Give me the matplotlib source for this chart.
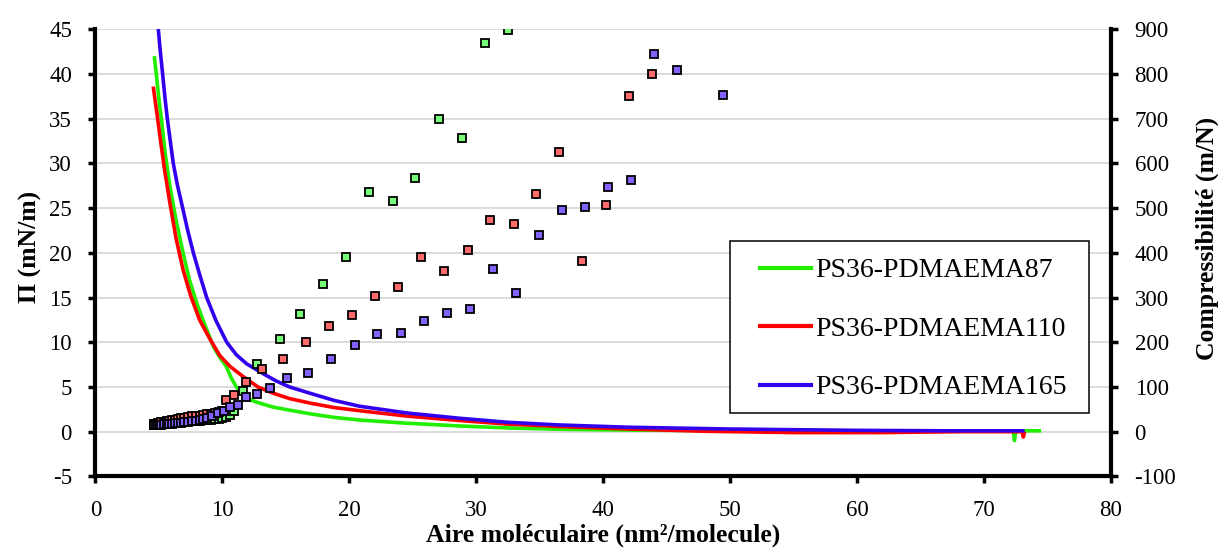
import matplotlib
matplotlib.use("Agg")
import matplotlib.pyplot as plt
from matplotlib.patches import Rectangle
from matplotlib.lines import Line2D

plt.rcParams['font.family'] = ['Liberation Serif', 'DejaVu Serif']

# ---------------- data ----------------
labels = ["PS36-PDMAEMA87", "PS36-PDMAEMA110", "PS36-PDMAEMA165"]

# Surface pressure isotherms (left axis)
pi_green_x = [4.63, 4.75, 4.9, 5.05, 5.2, 5.5, 5.87, 6.3, 6.9, 7.4, 7.97, 8.6, 9.3, 9.8, 10.3,
              10.7, 11.1, 11.6, 12.2, 12.96, 14.0, 15.33, 16.9, 18.8, 20.84, 24.5, 28.7, 32.5,
              36.6, 42.0, 50.0, 60.0, 70.0, 72.3, 72.4, 72.5, 74.5]
pi_green_y = [42.0, 40.5, 38.5, 36.5, 34.9, 31.0, 27.4, 24.0, 20.0, 17.0, 14.4, 12.0, 9.5, 8.3, 7.3,
              6.0, 5.0, 4.2, 3.55, 3.18, 2.75, 2.4, 2.0, 1.6, 1.3, 0.95, 0.64, 0.42,
              0.27, 0.18, 0.12, 0.1, 0.1, 0.1, -1.0, 0.1, 0.1]

pi_red_x = [4.55, 4.7, 4.85, 5.08, 5.45, 5.87, 6.35, 6.9, 7.5, 8.2, 9.0, 9.8, 10.6, 11.6, 12.8,
            14.0, 15.3, 16.9, 18.8, 20.8, 24.5, 28.7, 32.5, 36.6, 42.0, 48.0, 55.0, 62.0, 68.0,
            73.0, 73.1, 73.2]
pi_red_y = [38.6, 37.0, 35.5, 33.0, 29.2, 25.5, 21.6, 18.1, 15.2, 12.5, 10.4, 8.5, 7.3, 6.2, 5.0,
            4.3, 3.7, 3.2, 2.7, 2.35, 1.75, 1.25, 0.85, 0.58, 0.3, 0.05, -0.1, -0.1, 0.0,
            0.0, -0.6, 0.0]

pi_blue_x = [4.85, 4.95, 5.1, 5.29, 5.47, 5.66, 5.9, 6.13, 6.45, 6.87, 7.25, 7.71, 8.2, 8.76,
             9.5, 10.34, 11.1, 11.9, 13.2, 14.2, 15.3, 16.9, 18.8, 20.8, 24.5, 28.7, 32.5,
             36.6, 42.0, 50.0, 60.0, 67.0, 73.2]
pi_blue_y = [46.5, 45.0, 42.6, 40.0, 37.4, 35.0, 32.4, 30.0, 27.6, 25.0, 22.6, 20.0, 17.6, 15.0,
             12.4, 10.0, 8.6, 7.6, 6.5, 5.7, 5.0, 4.3, 3.5, 2.85, 2.1, 1.5, 1.05,
             0.75, 0.5, 0.3, 0.15, 0.1, 0.1]

# Compressibility (right axis)
comp_green_x = [4.6, 4.75, 4.9, 5.05, 5.2, 5.4, 5.6, 5.8, 6.0, 6.25, 6.5, 6.75, 7.0, 7.3, 7.6,
                7.9, 8.2, 8.5, 8.8, 9.1, 9.4, 9.7, 10.0, 10.25, 10.6, 10.94, 11.65, 12.7, 14.5,
                16.12, 17.93, 19.76, 21.58, 23.42, 25.2, 27.05, 28.86, 30.67, 32.48]
comp_green_y = [15, 16, 16, 17, 17, 18, 18, 19, 19, 20, 21, 21, 22, 23, 23,
                24, 25, 26, 26, 27, 28, 29, 30, 33, 38, 47, 90, 152, 208,
                264, 331, 391, 537, 516, 568, 700, 658, 870, 899]

comp_red_x = [4.6, 4.75, 4.9, 5.05, 5.2, 5.4, 5.6, 5.8, 6.0, 6.25, 6.5, 6.75, 7.0, 7.3, 7.6,
              7.9, 8.2, 8.5, 8.8, 9.1, 9.4, 9.7, 10.0, 10.3, 10.95, 11.83, 13.12, 14.75, 16.59,
              18.4, 20.24, 22.05, 23.86, 25.67, 27.49, 29.33, 31.1, 32.96, 34.74, 36.55, 38.36,
              40.2, 42.02, 43.85]
comp_red_y = [17, 18, 19, 20, 21, 22, 23, 24, 26, 27, 28, 30, 31, 32, 34,
              35, 36, 37, 39, 40, 42, 44, 47, 70, 81, 112, 140, 163, 201,
              237, 260, 303, 324, 391, 360, 407, 474, 465, 532, 626, 382,
              506, 751, 801]

comp_blue_x = [4.6, 4.75, 4.9, 5.05, 5.2, 5.4, 5.6, 5.8, 6.0, 6.25, 6.5, 6.75, 7.0, 7.3, 7.6,
               7.9, 8.2, 8.5, 8.8, 9.2, 9.67, 10.1, 10.62, 11.22, 11.88, 12.75, 13.74, 15.07,
               16.77, 18.58, 20.43, 22.21, 24.05, 25.86, 27.68, 29.49, 31.3, 33.11, 34.92, 36.74,
               38.55, 40.39, 42.2, 44.01, 45.82, 49.47]
comp_blue_y = [14, 15, 15, 16, 16, 17, 17, 18, 18, 19, 19, 20, 21, 22, 23,
               24, 26, 28, 31, 35, 42, 47, 55, 60, 78, 84, 98, 120,
               131, 163, 193, 219, 221, 248, 265, 274, 365, 310, 439, 496,
               502, 548, 564, 844, 810, 752]

x_ticks = [0, 10, 20, 30, 40, 50, 60, 70, 80]
left_ticks = [-5, 0, 5, 10, 15, 20, 25, 30, 35, 40, 45]
right_ticks = [-100, 0, 100, 200, 300, 400, 500, 600, 700, 800, 900]

# ---------------- style ----------------
line_colors = ['#22EE00', '#FF0000', '#3300EE']
marker_faces = ['#77FF77', '#FF6B6B', '#8462FF']

fig = plt.figure(figsize=(12.18, 5.5), dpi=100)
ax = fig.add_axes([0.0784, 0.1338, 0.8337, 0.8129])
ax2 = ax.twinx()

pi_x = [pi_green_x, pi_red_x, pi_blue_x]
pi_y = [pi_green_y, pi_red_y, pi_blue_y]
for xs, ys, c in zip(pi_x, pi_y, line_colors):
    ax.plot(xs, ys, color=c, lw=2.6, solid_capstyle='butt', solid_joinstyle='round', zorder=3)

comp_x = [comp_green_x, comp_red_x, comp_blue_x]
comp_y = [comp_green_y, comp_red_y, comp_blue_y]
for xs, ys, fc in zip(comp_x, comp_y, marker_faces):
    ax2.plot(xs, ys, ls='none', marker='s', ms=6.2, mfc=fc, mec='black', mew=1.3, zorder=3)

ax.set_xlim(0, 80)
ax.set_ylim(-5, 45)
ax2.set_ylim(-100, 900)
ax.set_xticks(x_ticks)
ax.set_yticks(left_ticks)
ax2.set_yticks(right_ticks)
ax.set_xticklabels([str(v) for v in x_ticks])
ax.set_yticklabels([str(v) for v in left_ticks])
ax2.set_yticklabels([str(v) for v in right_ticks])

ax.yaxis.grid(True, color='#D9D9D9', lw=1.3)
ax.set_axisbelow(True)

for a in (ax, ax2):
    a.spines['top'].set_visible(False)
    for s in ('left', 'right', 'bottom'):
        a.spines[s].set_linewidth(3)
ax.spines['right'].set_visible(False)
ax2.spines['left'].set_visible(False)
ax2.spines['bottom'].set_visible(False)

ax.tick_params(axis='both', direction='out', length=5, width=2.5, labelsize=16.5, pad=12)
ax.tick_params(axis='x', pad=12)
ax2.tick_params(axis='y', direction='out', length=5, width=2.5, labelsize=16.5, pad=12)

fig.text(0.0246, 0.551, "Π (mN/m)", rotation=90, ha='center', va='center',
         fontsize=18.5, fontweight='bold')
fig.text(0.991, 0.567, "Compressibilité (m/N)", rotation=90, ha='center', va='center',
         fontsize=18.5, fontweight='bold')
fig.text(0.495, 0.0145, "Aire moléculaire (nm²/molecule)", ha='center', va='baseline',
         fontsize=18.5, fontweight='bold')

# legend frame + legend entries
frame = Rectangle((0.5991, 0.2485), 0.2947, 0.3133, transform=fig.transFigure,
                  facecolor='white', edgecolor='black', lw=1.1, zorder=4)
fig.patches.append(frame)
handles = [Line2D([], [], color=c, lw=3) for c in line_colors]
leg = fig.legend(handles, labels, loc='upper left', bbox_to_anchor=(0.6236, 0.5313),
                 bbox_transform=fig.transFigure, frameon=False, fontsize=20,
                 borderpad=0, borderaxespad=0, handlelength=1.87, handletextpad=0.126,
                 labelspacing=1.19)
leg.set_zorder(5)

fig.savefig("out.png", dpi=100)
